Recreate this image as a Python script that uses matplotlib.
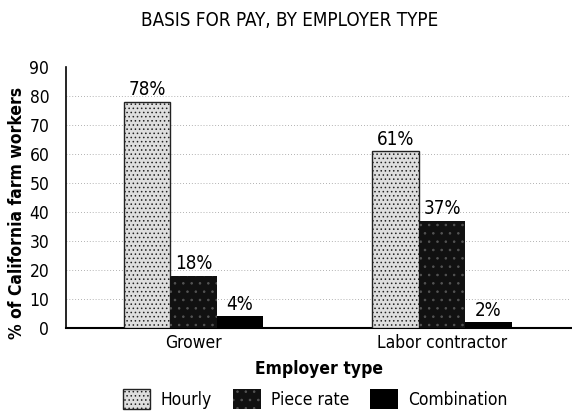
import numpy as np
import matplotlib
matplotlib.use("Agg")
from matplotlib import pyplot as plt
from matplotlib.patches import Patch

plt.rcParams['font.family'] = ['DejaVu Sans']
plt.rcParams['font.stretch'] = 'condensed'
plt.rcParams['hatch.linewidth'] = 0.6

employer_types = ["Grower", "Labor contractor"]
series_names = ["Hourly", "Piece rate", "Combination"]
hourly = [78, 61]
piece_rate = [18, 37]
combination = [4, 2]
y_ticks = [0, 10, 20, 30, 40, 50, 60, 70, 80, 90]

fig = plt.figure(figsize=(5.72, 4.13), dpi=100)
ax = fig.add_axes([0.1154, 0.2058, 0.8829, 0.632])

x = np.arange(len(employer_types))
w = 0.187
styles = [
    dict(facecolor="#dedede", edgecolor="#222222", hatch="....", linewidth=1.0),
    dict(facecolor="#111111", edgecolor="#555555", hatch="..", linewidth=0.0),
    dict(facecolor="black", edgecolor="black", linewidth=0.0),
]
for i, (vals, st) in enumerate(zip([hourly, piece_rate, combination], styles)):
    bars = ax.bar(x + (i - 1) * w, vals, w, zorder=3, **st)
    for b, v in zip(bars, vals):
        ax.text(b.get_x() + b.get_width() / 2, v + 0.8, f"{v}%", ha="center",
                va="bottom", fontsize=13.5, zorder=4)

ax.set_xlim(-0.513, 1.519)
ax.set_ylim(0, 90)
ax.set_yticks(y_ticks)
ax.set_xticks(x)
ax.set_xticklabels(employer_types)
ax.tick_params(axis="both", length=0, labelsize=12.5)
ax.tick_params(axis="y", pad=12)
ax.tick_params(axis="x", pad=4)
for yv in y_ticks[1:-1]:
    ax.axhline(yv, color="#999999", linestyle=(0, (1, 2.5)), linewidth=0.6, zorder=1)

for s in ["top", "right"]:
    ax.spines[s].set_visible(False)
ax.spines["left"].set_linewidth(1.2)
ax.spines["bottom"].set_linewidth(1.5)

ax.set_ylabel("% of California farm workers", fontsize=12.5, fontweight="bold")
ax.yaxis.set_label_coords(-0.08, 0.44)
ax.set_xlabel("Employer type", fontsize=12.5, fontweight="bold", labelpad=6)
fig.text(0.507, 0.95, "BASIS FOR PAY, BY EMPLOYER TYPE", ha="center", va="center", fontsize=13.5)

handles = [Patch(**st) for st in styles]
fig.legend(handles, series_names, loc="center", bbox_to_anchor=(0.551, 0.033), ncol=3,
           frameon=False, fontsize=12.5, handlelength=1.6, handleheight=1.4,
           columnspacing=1.2, handletextpad=0.6)

fig.savefig("out.png", dpi=100)
